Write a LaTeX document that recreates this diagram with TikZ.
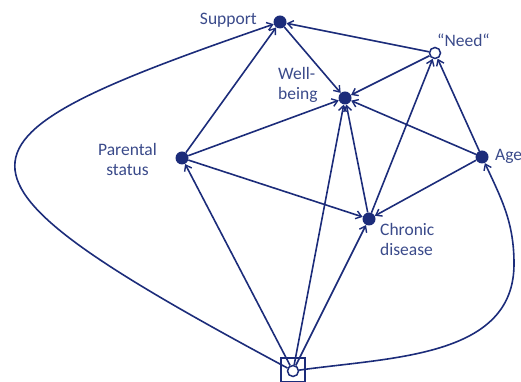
\documentclass[tikz,border=0pt]{standalone}
\usepackage{fontspec}
\setmainfont{Carlito}
\usetikzlibrary{arrows.meta}
\definecolor{ln}{RGB}{28,44,122}
\definecolor{tx}{RGB}{58,74,138}
\begin{document}
\begin{tikzpicture}[x=1pt,y=1pt,
  dot/.style={circle,fill=ln,inner sep=0pt,minimum size=13pt},
  odot/.style={circle,fill=white,draw=ln,line width=1.5pt,inner sep=0pt,minimum size=11pt},
  box/.style={draw=ln,line width=1.5pt,inner sep=0pt,minimum size=24pt},
  edge/.style={draw=ln,line width=1.6pt,-{Straight Barb[length=5.5pt,width=8pt,line width=1.4pt]}},
  lab/.style={text=tx,font=\fontsize{17.5}{20}\selectfont,inner sep=0pt}]
\useasboundingbox (0,0) rectangle (521,382);
% nodes
\node[box] (sq) at (293,12) {};
\node[dot] (S) at (280,360) {};
\node[odot] (N) at (435,329) {};
\node[dot] (W) at (345,284) {};
\node[dot] (P) at (182,224) {};
\node[dot] (A) at (482,225) {};
\node[dot] (C) at (369,163) {};
\coordinate (rc) at (514,118);
% edges
\draw[edge] (P) -- (S);
\draw[edge] (P) -- (W);
\draw[edge] (P) -- (C);
\draw[edge] (S) -- (W);
\draw[edge] (N) -- (S);
\draw[edge] (N) -- (W);
\draw[edge] (A) -- (N);
\draw[edge] (A) -- (W);
\draw[edge] (A) -- (C);
\draw[edge] (C) -- (N);
\draw[edge] (C) -- (W);
\node[odot] (B) at (293,11) {};
\draw[edge] (B) -- (P);
\draw[edge] (B) -- (W);
\draw[edge] (B) -- (C);
\draw[edge] (B) .. controls (-82,212) and (-65,241) .. (S);
\draw[edge] (B) to[out=8,in=-90] (rc) to[out=90,in=-65] (A);
% labels
\node[lab,anchor=base east] (lS) at (257,357) {Support};
\node[lab,anchor=base west] (lN) at (437,335) {“Need“};
\node[lab,anchor=west,align=left] (lW) at (278,297.5) {Well-\\being};
\node[lab,align=center] (lP) at (127.5,222.25) {Parental\\status};
\node[lab,anchor=west,align=left] (lC) at (380,143) {Chronic\\disease};
\node[lab,anchor=base west] (lA) at (495,221) {Age};
\end{tikzpicture}
\end{document}
